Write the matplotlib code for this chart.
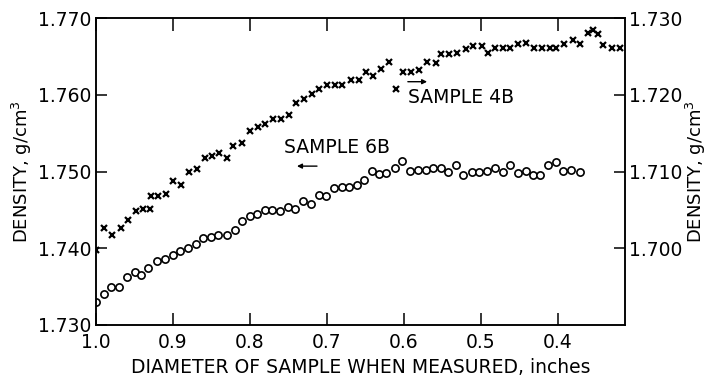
import matplotlib
matplotlib.use("Agg")
import matplotlib.pyplot as plt

# Sample 4B (crosses, right-hand density scale)
diam_4b = [1.000, 0.989, 0.979, 0.968, 0.958, 0.948, 0.939, 0.930, 0.928, 0.919,
           0.909, 0.900, 0.890, 0.879, 0.869, 0.859, 0.849, 0.840, 0.830, 0.822,
           0.810, 0.800, 0.789, 0.780, 0.770, 0.760, 0.750, 0.740, 0.730, 0.720,
           0.710, 0.700, 0.690, 0.680, 0.669, 0.659, 0.650, 0.640, 0.630, 0.620,
           0.610, 0.601, 0.591, 0.581, 0.570, 0.559, 0.552, 0.541, 0.531, 0.520,
           0.510, 0.499, 0.491, 0.482, 0.472, 0.462, 0.452, 0.441, 0.431, 0.421,
           0.411, 0.402, 0.392, 0.380, 0.371, 0.361, 0.355, 0.348, 0.341, 0.330,
           0.320]
dens_4b = [1.6998, 1.7027, 1.7017, 1.7027, 1.7037, 1.7048, 1.7051, 1.7051, 1.7068, 1.7068,
           1.7071, 1.7087, 1.7083, 1.7099, 1.7103, 1.7118, 1.7120, 1.7124, 1.7118, 1.7133,
           1.7137, 1.7153, 1.7158, 1.7162, 1.7169, 1.7169, 1.7174, 1.7189, 1.7194, 1.7201,
           1.7208, 1.7213, 1.7213, 1.7213, 1.7219, 1.7219, 1.7229, 1.7224, 1.7234, 1.7243,
           1.7208, 1.7229, 1.7229, 1.7232, 1.7243, 1.7241, 1.7253, 1.7253, 1.7255, 1.7259,
           1.7264, 1.7263, 1.7254, 1.7261, 1.7261, 1.7261, 1.7266, 1.7267, 1.7261, 1.7261,
           1.7261, 1.7261, 1.7266, 1.7271, 1.7266, 1.7280, 1.7285, 1.7279, 1.7265, 1.7261,
           1.7261]

# Sample 6B (circles, left-hand density scale)
diam_6b = [1.000, 0.990, 0.980, 0.970, 0.960, 0.950, 0.941, 0.932, 0.921, 0.910,
           0.900, 0.891, 0.880, 0.870, 0.861, 0.851, 0.841, 0.830, 0.820, 0.810,
           0.800, 0.791, 0.781, 0.771, 0.761, 0.751, 0.741, 0.731, 0.721, 0.711,
           0.701, 0.691, 0.681, 0.671, 0.661, 0.652, 0.642, 0.632, 0.623, 0.612,
           0.602, 0.592, 0.582, 0.572, 0.562, 0.552, 0.543, 0.533, 0.523, 0.512,
           0.502, 0.492, 0.482, 0.472, 0.462, 0.452, 0.442, 0.432, 0.423, 0.413,
           0.403, 0.393, 0.383, 0.372]
dens_6b = [1.7330, 1.7341, 1.7350, 1.7350, 1.7362, 1.7369, 1.7365, 1.7374, 1.7383, 1.7386,
           1.7391, 1.7396, 1.7400, 1.7406, 1.7413, 1.7415, 1.7417, 1.7417, 1.7424, 1.7435,
           1.7442, 1.7445, 1.7450, 1.7450, 1.7448, 1.7454, 1.7451, 1.7462, 1.7458, 1.7470,
           1.7468, 1.7478, 1.7480, 1.7480, 1.7482, 1.7489, 1.7501, 1.7497, 1.7498, 1.7505,
           1.7514, 1.7501, 1.7502, 1.7502, 1.7505, 1.7504, 1.7499, 1.7509, 1.7495, 1.7499,
           1.7499, 1.7501, 1.7505, 1.7499, 1.7509, 1.7498, 1.7501, 1.7496, 1.7495, 1.7508,
           1.7513, 1.7501, 1.7502, 1.7499]

x_ticks = [1.0, 0.9, 0.8, 0.7, 0.6, 0.5, 0.4]
x_tick_labels = ["1.0", "0.9", "0.8", "0.7", "0.6", "0.5", "0.4"]
left_ticks = [1.730, 1.740, 1.750, 1.760, 1.770]
right_ticks = [1.700, 1.710, 1.720, 1.730]

plt.rcParams["font.family"] = "DejaVu Sans"
FS = 13.5

fig = plt.figure(figsize=(7.12, 3.82), dpi=100)
ax = fig.add_axes([96 / 712, 1 - 325 / 382, (625 - 96) / 712, (325 - 18) / 382])
ax2 = ax.twinx()

ax.plot(diam_6b, dens_6b, linestyle="none", marker="o", ms=5.2,
        mfc="white", mec="black", mew=1.2)
ax2.plot(diam_4b, dens_4b, linestyle="none", marker="x", ms=4,
         color="black", mew=1.6)

ax.set_xlim(1.0, 0.313)
ax.set_ylim(1.730, 1.770)
ax2.set_ylim(1.690, 1.730)

ax.set_xticks(x_ticks)
ax.set_xticklabels(x_tick_labels, fontsize=FS)
ax.set_yticks(left_ticks)
ax.set_yticklabels([f"{v:.3f}" for v in left_ticks], fontsize=FS)
ax2.set_yticks(right_ticks)
ax2.set_yticklabels([f"{v:.3f}" for v in right_ticks], fontsize=FS)

ax.tick_params(axis="x", direction="in", length=9, width=1.1, top=True, pad=6)
ax.tick_params(axis="y", direction="in", length=8, width=1.1, pad=3)
ax2.tick_params(axis="y", direction="in", length=8, width=1.1, pad=3)

for a in (ax, ax2):
    for s in a.spines.values():
        s.set_linewidth(1.1)

ax.set_xlabel("DIAMETER OF SAMPLE WHEN MEASURED, inches", fontsize=FS, labelpad=4)
ax.set_ylabel("DENSITY, g/cm$^3$", fontsize=13, labelpad=3)
ax2.set_ylabel("DENSITY, g/cm$^3$", fontsize=13, labelpad=1, rotation=90)

# Series labels with direction arrows pointing to their scales
ax.text(0.595, 1.7597, "SAMPLE 4B", fontsize=FS, ha="left", va="center")
ax.annotate("", xy=(0.570, 1.7617), xytext=(0.595, 1.7617),
            arrowprops=dict(arrowstyle="-|>", color="black", lw=1.0,
                            mutation_scale=7, shrinkA=0, shrinkB=0))
ax.text(0.756, 1.7531, "SAMPLE 6B", fontsize=FS, ha="left", va="center")
ax.annotate("", xy=(0.739, 1.7507), xytext=(0.713, 1.7507),
            arrowprops=dict(arrowstyle="-|>", color="black", lw=1.0,
                            mutation_scale=7, shrinkA=0, shrinkB=0))

fig.savefig("out.png", dpi=100)
